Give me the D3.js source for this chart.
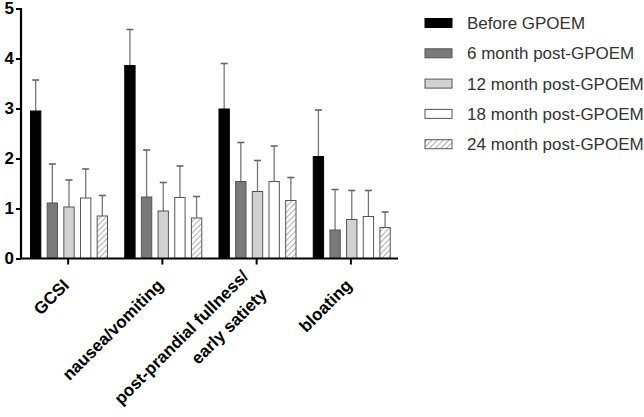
<!DOCTYPE html>
<html><head><meta charset="utf-8">
<script src="https://d3js.org/d3.v7.min.js"></script>
<style>body{margin:0;background:#fff}svg{display:block}</style>
</head><body>
<svg id="c" width="644" height="417"></svg>
<script>
const categories = ["GCSI", "nausea/vomiting", "post-prandial fullness/|early satiety", "bloating"];
const series = ["Before GPOEM", "6 month post-GPOEM", "12 month post-GPOEM", "18 month post-GPOEM", "24 month post-GPOEM"];
// means [series][category]
const means = [
  [2.95, 3.86, 2.99, 2.04],
  [1.11, 1.23, 1.54, 0.57],
  [1.03, 0.95, 1.34, 0.78],
  [1.21, 1.22, 1.54, 0.84],
  [0.85, 0.81, 1.16, 0.62]
];
const upper = [
  [3.57, 4.58, 3.90, 2.97],
  [1.89, 2.17, 2.32, 1.38],
  [1.57, 1.52, 1.96, 1.36],
  [1.79, 1.85, 2.25, 1.36],
  [1.26, 1.24, 1.62, 0.93]
];
const yTicks = [0, 1, 2, 3, 4, 5];
const fills = ["#000000", "#7a7a7a", "#d2d2d2", "#ffffff", "url(#hatch)"];

const svg = d3.select("#c");
const defs = svg.append("defs");
const pat = defs.append("pattern").attr("id", "hatch").attr("patternUnits", "userSpaceOnUse")
  .attr("width", 4).attr("height", 4).attr("patternTransform", "rotate(45)");
pat.append("rect").attr("width", 4).attr("height", 4).attr("fill", "#fff");
pat.append("line").attr("x1", 0).attr("y1", 0).attr("x2", 0).attr("y2", 4)
  .attr("stroke", "#777").attr("stroke-width", 1.2);

const x0 = d3.scaleBand().domain(categories).range([21, 398]).padding(0);
const x1 = d3.scaleBand().domain(series).range([9.5, 86.5]).paddingInner(0.38).paddingOuter(0);
const y = d3.scaleLinear().domain([0, 5]).range([258.5, 8.5]);

const g = svg.append("g");
series.forEach((s, si) => {
  categories.forEach((c, ci) => {
    const bx = x0(c) + x1(s), bw = x1.bandwidth();
    const cx = bx + bw / 2;
    g.append("line").attr("x1", cx).attr("x2", cx).attr("y1", y(means[si][ci])).attr("y2", y(upper[si][ci]))
      .attr("stroke", "#777").attr("stroke-width", 1.3);
    g.append("line").attr("x1", cx - 3.5).attr("x2", cx + 3.5).attr("y1", y(upper[si][ci])).attr("y2", y(upper[si][ci]))
      .attr("stroke", "#666").attr("stroke-width", 1.6);
    g.append("rect").attr("x", bx).attr("y", y(means[si][ci])).attr("width", bw)
      .attr("height", y(0) - y(means[si][ci]))
      .attr("fill", fills[si]).attr("stroke", si === 0 ? "#000" : "#555").attr("stroke-width", 1);
  });
});

// y axis
const ya = svg.append("g").attr("transform", "translate(21,0)")
  .call(d3.axisLeft(y).tickValues(yTicks).tickSize(5).tickPadding(3).tickFormat(d3.format("d")));
ya.select(".domain").attr("stroke", "#000").attr("stroke-width", 2.2).attr("d", `M0,${y(5)-0.5}V${y(0)}`);
ya.selectAll(".tick line").attr("stroke", "#000").attr("stroke-width", 2);
ya.selectAll(".tick text").attr("font-family", "Liberation Sans, Arial, sans-serif").attr("font-weight", "bold")
  .attr("font-size", 17).attr("fill", "#000").attr("x", -7);

// x axis
const xa = svg.append("g").attr("transform", `translate(0,${y(0)})`)
  .call(d3.axisBottom(x0).tickSize(6).tickFormat(""));
xa.select(".domain").attr("stroke", "#000").attr("stroke-width", 2.2).attr("d", `M20,0H398`);
xa.selectAll(".tick line").attr("stroke", "#000").attr("stroke-width", 2);
const LH = 26;
xa.selectAll(".tick").each(function(d) {
  const lines = d.split("|");
  const t = d3.select(this).append("text")
    .attr("transform", "translate(2,28) rotate(-45)")
    .attr("text-anchor", "end").attr("font-family", "Liberation Sans, Arial, sans-serif")
    .attr("font-weight", "bold").attr("font-size", 17).attr("fill", "#000");
  lines.forEach((l, i) => {
    t.append("tspan").attr("x", 0).attr("dy", i === 0 ? -(lines.length - 1) / 2 * LH : LH).text(l);
  });
});

// legend
const leg = svg.append("g");
series.forEach((s, i) => {
  const ly = 23 + i * 30.3;
  leg.append("rect").attr("x", 425).attr("y", ly - 4.5).attr("width", 27).attr("height", 9)
    .attr("fill", fills[i]).attr("stroke", i === 0 ? "#000" : "#555").attr("stroke-width", 1);
  leg.append("text").attr("x", 467).attr("y", ly).attr("dy", "0.36em")
    .attr("font-family", "Liberation Sans, Arial, sans-serif").attr("font-size", 17).attr("fill", "#333").text(s);
});
</script>
</body></html>
